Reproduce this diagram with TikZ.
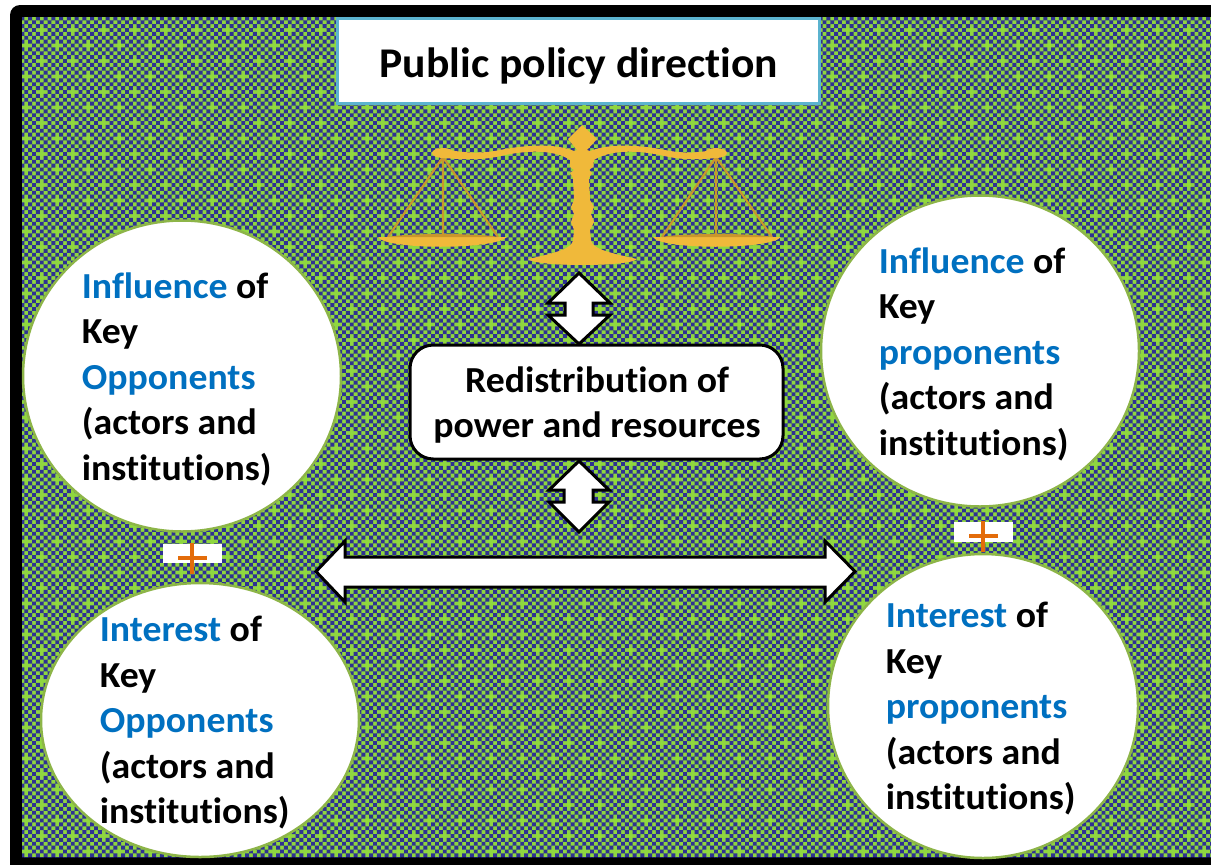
\documentclass[tikz,border=0pt]{standalone}
\usepackage{fontspec}
\setmainfont{Carlito}[BoldFont=Carlito Bold,BoldFeatures={FakeStretch=1.03},Ligatures=NoCommon]
\usetikzlibrary{patterns,shapes.geometric}
\definecolor{bgG}{HTML}{8FD640}
\definecolor{bgB}{HTML}{2E3192}
\definecolor{ringG}{HTML}{8DB548}
\definecolor{kw}{HTML}{0070C0}
\definecolor{gold}{HTML}{F0B93A}
\definecolor{golddk}{HTML}{C9962C}
\definecolor{plusO}{HTML}{E36C0A}
\definecolor{titleB}{HTML}{5BB3CF}
\newlength{\cellw}\setlength{\cellw}{2.325pt}
\pgfdeclarepatternformonly{crosscheck}{\pgfqpoint{5.26pt}{15.64pt}}{\pgfqpoint{23.86pt}{34.24pt}}{\pgfqpoint{18.6pt}{18.6pt}}{%
  \foreach \i/\j in {0/2,0/4,0/6,1/1,1/3,1/5,1/7,2/0,2/2,2/4,2/6,3/1,3/3,3/5,3/7,4/0,4/2,4/6,5/1,5/3,5/5,5/7,6/0,6/2,6/4,6/6,7/1,7/3,7/5,7/7}{%
    \pgfpathrectangle{\pgfpoint{\i\cellw+5.26pt}{\j\cellw+15.64pt}}{\pgfpoint{\cellw}{\cellw}}%
  }%
  \pgfusepath{fill}%
}
\tikzset{
  x=0.6pt,y=-0.6pt,
  ring/.style={ellipse,draw=ringG,line width=1.5pt,fill=white,inner sep=0pt},
  said/.style={anchor=west,align=left,inner sep=0pt,font=\fontsize{22}{27.3}\selectfont\bfseries},
  block/.style={draw=black,line width=1.8pt,fill=white,line join=miter},
  gap/.style={fill=white},
  plusm/.style={draw=plusO,line width=2.8pt},
  thread/.style={draw=golddk,line width=1.3pt},
}
\newcommand{\kwd}[1]{\textcolor{kw}{#1}}
\begin{document}
\begin{tikzpicture}
\useasboundingbox (0,0) rectangle (1211,864);
\fill[white] (0,0) rectangle (1211,864);
% frame and ground
\fill[black,rounded corners=6pt] (10,5) -- (1230,5) -- (1230,880) -- (10,880) -- cycle;
\fill[bgG] (22,17) rectangle (1211,857);
\fill[pattern=crosscheck,pattern color=bgB] (22,17) rectangle (1211,857);
% title
\node[draw=titleB,line width=1.8pt,fill=white,minimum width=289.5pt,minimum height=51pt,inner sep=0pt] (title) at (578.5,61) {};
\node[inner sep=0pt,font=\fontsize{25.4}{30}\selectfont\bfseries] (titletext) at (579,66) {Public policy direction};
% scale
\draw[thread] (443,157) -- (388,237) (443,157) -- (443,237) (443,157) -- (498,237);
\draw[thread] (716,157) -- (662,237) (716,157) -- (716,237) (716,157) -- (772,237);
\fill[gold] (378,237) .. controls (385,250) and (495,250) .. (507,237) -- cycle;
\fill[gold] (653,237) .. controls (660,250) and (770,250) .. (781,237) -- cycle;
\fill[golddk] (388,237) -- (498,237) .. controls (480,233) and (405,233) .. (388,237) -- cycle;
\fill[golddk] (662,237) -- (772,237) .. controls (755,233) and (680,233) .. (662,237) -- cycle;
\fill[gold] (443,153) ellipse (11 and 5);
\fill[gold] (716,153) ellipse (11 and 5);
\fill[gold] (582,125) -- (597,139) -- (587,150) -- (590,151)
  .. controls (610,143) and (640,145) .. (665,150)
  .. controls (685,154) and (700,153) .. (716,149)
  -- (716,158) .. controls (695,160) and (680,160) .. (660,155)
  .. controls (635,150) and (610,150) .. (594,160)
  -- (593,167) -- (589,170) -- (592,173) -- (589,178)
  -- (590,200) -- (594,207) -- (591,214) -- (594,222) -- (590,230) -- (591,240)
  .. controls (592,248) and (605,252) .. (637,259)
  .. controls (630,267) and (535,267) .. (528,259)
  .. controls (560,252) and (572,248) .. (573,240)
  -- (574,230) -- (571,222) -- (574,214) -- (571,207) -- (574,200)
  -- (573,178) -- (570,173) -- (574,170) -- (570,167) -- (570,160)
  .. controls (555,150) and (530,150) .. (505,155)
  .. controls (485,160) and (470,160) .. (443,158)
  -- (443,149) .. controls (465,153) and (480,154) .. (500,150)
  .. controls (525,145) and (555,143) .. (574,151)
  -- (577,150) -- (568,139) -- cycle;
% circles
\node[ring,minimum width=190.8pt,minimum height=186.6pt] (lt) at (182,376) {};
\node[ring,minimum width=190.8pt,minimum height=164.4pt] (lb) at (200,720) {};
\node[ring,minimum width=190.8pt,minimum height=186.6pt] (rt) at (980,351) {};
\node[ring,minimum width=186pt,minimum height=182.4pt] (rb) at (983,706) {};
\node[said] (ltt) at (81.5,379) {\kwd{Influence} of\\Key\\\kwd{Opponents}\\(actors and\\institutions)};
\node[said] (lbt) at (99.5,723) {\kwd{Interest} of\\Key\\\kwd{Opponents}\\(actors and\\institutions)};
\node[said] (rtt) at (878.5,354) {\kwd{Influence} of\\Key\\\kwd{proponents}\\(actors and\\institutions)};
\node[said] (rbt) at (885.5,709) {\kwd{Interest} of\\Key\\\kwd{proponents}\\(actors and\\institutions)};
% plus marks
\fill[gap] (163,544) rectangle (222,563);
\draw[plusm] (178,558) -- (207,558) (192,543) -- (192,574);
\fill[gap] (954,522) rectangle (1013,542);
\draw[plusm] (969,536) -- (998,536) (983,521) -- (983,552);
% centre box
\node[draw=black,line width=1.8pt,fill=white,rounded corners=14pt,minimum width=223.8pt,minimum height=68.4pt,inner sep=0pt] (redis) at (596.5,402) {};
\node[inner sep=0pt,align=center,font=\fontsize{22}{27.3}\selectfont\bfseries] (redist) at (597,405) {Redistribution of\\power and resources};
% block arrows
\draw[block] (579,273) -- (610,303) -- (593,303) -- (593,315) -- (610,315) -- (579,344) -- (548,315) -- (565,315) -- (565,303) -- (548,303) -- cycle;
\draw[block] (579,461) -- (609,490) -- (593,490) -- (593,502) -- (609,502) -- (579,532) -- (549,502) -- (564,502) -- (564,490) -- (549,490) -- cycle;
\draw[block] (316,571.5) -- (345,541) -- (345,557) -- (825,557) -- (825,541) -- (855,571.5) -- (825,602) -- (825,587) -- (345,587) -- (345,602) -- cycle;
\end{tikzpicture}
\end{document}
